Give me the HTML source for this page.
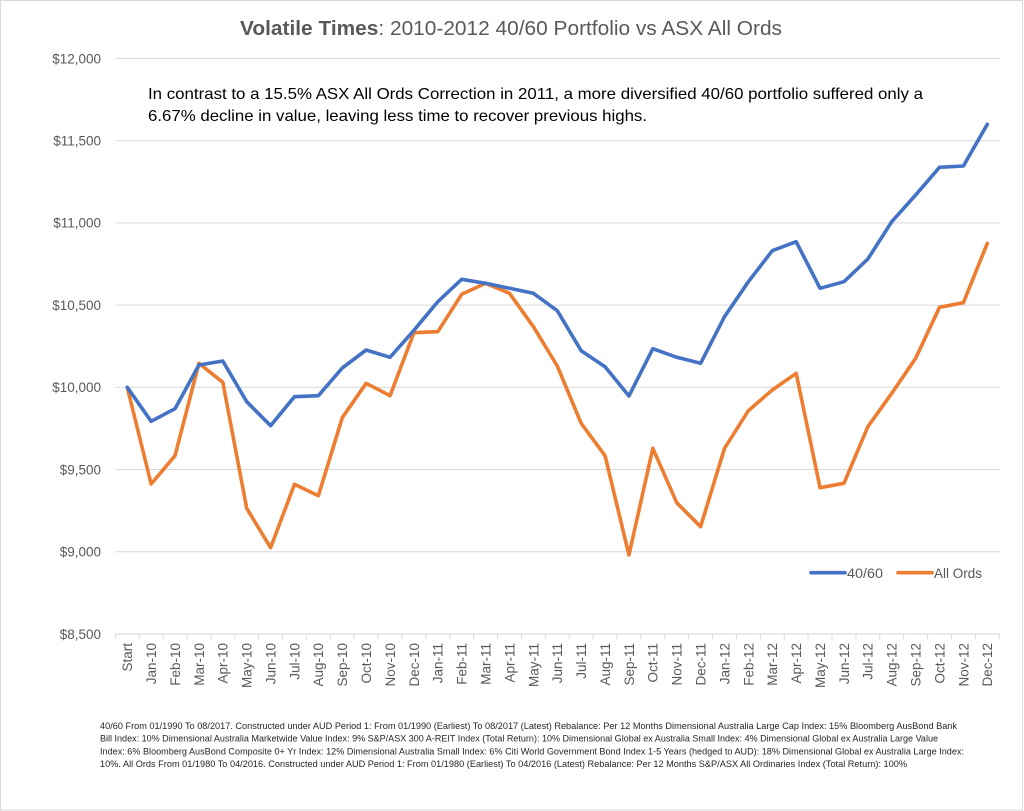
<!DOCTYPE html>
<html>
<head>
<meta charset="utf-8">
<style>
  html,body{margin:0;padding:0;background:#fff;}
  svg{display:block;}
  text{font-family:"Liberation Sans",Arial,sans-serif;}
</style>
</head>
<body>
<svg width="1024" height="811" viewBox="0 0 1024 811" xmlns="http://www.w3.org/2000/svg">
  <rect x="0" y="0" width="1024" height="811" fill="#fff"/>
  <rect x="0.5" y="0.5" width="1022" height="809.5" fill="none" stroke="#d9d9d9" stroke-width="1"/>

  <!-- Title -->
  <text x="240" y="35" font-size="20" fill="#595959" textLength="542" lengthAdjust="spacingAndGlyphs"><tspan font-weight="bold">Volatile Times</tspan>: 2010-2012 40/60 Portfolio vs ASX All Ords</text>

  <!-- Gridlines -->
  <g stroke="#d9d9d9" stroke-width="1">
    <line x1="115.3" y1="58.5" x2="1000" y2="58.5"/>
    <line x1="115.3" y1="140.7" x2="1000" y2="140.7"/>
    <line x1="115.3" y1="222.9" x2="1000" y2="222.9"/>
    <line x1="115.3" y1="305.1" x2="1000" y2="305.1"/>
    <line x1="115.3" y1="387.3" x2="1000" y2="387.3"/>
    <line x1="115.3" y1="469.5" x2="1000" y2="469.5"/>
    <line x1="115.3" y1="551.7" x2="1000" y2="551.7"/>
    <line x1="115.3" y1="634" x2="1000" y2="634"/>
  </g>

  <!-- Tick marks -->
  <g stroke="#d9d9d9" stroke-width="1">
    <line x1="115.3" y1="634" x2="115.3" y2="639.5"/>
    <line x1="139.2" y1="634" x2="139.2" y2="639.5"/>
    <line x1="163.1" y1="634" x2="163.1" y2="639.5"/>
    <line x1="187.0" y1="634" x2="187.0" y2="639.5"/>
    <line x1="210.9" y1="634" x2="210.9" y2="639.5"/>
    <line x1="234.8" y1="634" x2="234.8" y2="639.5"/>
    <line x1="258.6" y1="634" x2="258.6" y2="639.5"/>
    <line x1="282.5" y1="634" x2="282.5" y2="639.5"/>
    <line x1="306.4" y1="634" x2="306.4" y2="639.5"/>
    <line x1="330.3" y1="634" x2="330.3" y2="639.5"/>
    <line x1="354.2" y1="634" x2="354.2" y2="639.5"/>
    <line x1="378.1" y1="634" x2="378.1" y2="639.5"/>
    <line x1="402.0" y1="634" x2="402.0" y2="639.5"/>
    <line x1="425.9" y1="634" x2="425.9" y2="639.5"/>
    <line x1="449.8" y1="634" x2="449.8" y2="639.5"/>
    <line x1="473.7" y1="634" x2="473.7" y2="639.5"/>
    <line x1="497.5" y1="634" x2="497.5" y2="639.5"/>
    <line x1="521.4" y1="634" x2="521.4" y2="639.5"/>
    <line x1="545.3" y1="634" x2="545.3" y2="639.5"/>
    <line x1="569.2" y1="634" x2="569.2" y2="639.5"/>
    <line x1="593.1" y1="634" x2="593.1" y2="639.5"/>
    <line x1="617.0" y1="634" x2="617.0" y2="639.5"/>
    <line x1="640.9" y1="634" x2="640.9" y2="639.5"/>
    <line x1="664.8" y1="634" x2="664.8" y2="639.5"/>
    <line x1="688.7" y1="634" x2="688.7" y2="639.5"/>
    <line x1="712.6" y1="634" x2="712.6" y2="639.5"/>
    <line x1="736.4" y1="634" x2="736.4" y2="639.5"/>
    <line x1="760.3" y1="634" x2="760.3" y2="639.5"/>
    <line x1="784.2" y1="634" x2="784.2" y2="639.5"/>
    <line x1="808.1" y1="634" x2="808.1" y2="639.5"/>
    <line x1="832.0" y1="634" x2="832.0" y2="639.5"/>
    <line x1="855.9" y1="634" x2="855.9" y2="639.5"/>
    <line x1="879.8" y1="634" x2="879.8" y2="639.5"/>
    <line x1="903.7" y1="634" x2="903.7" y2="639.5"/>
    <line x1="927.6" y1="634" x2="927.6" y2="639.5"/>
    <line x1="951.5" y1="634" x2="951.5" y2="639.5"/>
    <line x1="975.3" y1="634" x2="975.3" y2="639.5"/>
    <line x1="999.2" y1="634" x2="999.2" y2="639.5"/>
  </g>

  <!-- Y labels -->
  <g font-size="13.5" fill="#595959" text-anchor="end">
    <text x="101" y="63.3">$12,000</text>
    <text x="101" y="145.5">$11,500</text>
    <text x="101" y="227.7">$11,000</text>
    <text x="101" y="309.9">$10,500</text>
    <text x="101" y="392.1">$10,000</text>
    <text x="101" y="474.3">$9,500</text>
    <text x="101" y="556.5">$9,000</text>
    <text x="101" y="638.8">$8,500</text>
  </g>

  <!-- X labels -->
  <g font-size="13.5" fill="#595959" text-anchor="end">
    <text transform="translate(127.25,643) rotate(-90)" dy="0.36em">Start</text>
    <text transform="translate(151.14,643) rotate(-90)" dy="0.36em">Jan-10</text>
    <text transform="translate(175.03,643) rotate(-90)" dy="0.36em">Feb-10</text>
    <text transform="translate(198.92,643) rotate(-90)" dy="0.36em">Mar-10</text>
    <text transform="translate(222.81,643) rotate(-90)" dy="0.36em">Apr-10</text>
    <text transform="translate(246.70,643) rotate(-90)" dy="0.36em">May-10</text>
    <text transform="translate(270.59,643) rotate(-90)" dy="0.36em">Jun-10</text>
    <text transform="translate(294.48,643) rotate(-90)" dy="0.36em">Jul-10</text>
    <text transform="translate(318.37,643) rotate(-90)" dy="0.36em">Aug-10</text>
    <text transform="translate(342.26,643) rotate(-90)" dy="0.36em">Sep-10</text>
    <text transform="translate(366.15,643) rotate(-90)" dy="0.36em">Oct-10</text>
    <text transform="translate(390.04,643) rotate(-90)" dy="0.36em">Nov-10</text>
    <text transform="translate(413.93,643) rotate(-90)" dy="0.36em">Dec-10</text>
    <text transform="translate(437.82,643) rotate(-90)" dy="0.36em">Jan-11</text>
    <text transform="translate(461.71,643) rotate(-90)" dy="0.36em">Feb-11</text>
    <text transform="translate(485.60,643) rotate(-90)" dy="0.36em">Mar-11</text>
    <text transform="translate(509.49,643) rotate(-90)" dy="0.36em">Apr-11</text>
    <text transform="translate(533.38,643) rotate(-90)" dy="0.36em">May-11</text>
    <text transform="translate(557.27,643) rotate(-90)" dy="0.36em">Jun-11</text>
    <text transform="translate(581.16,643) rotate(-90)" dy="0.36em">Jul-11</text>
    <text transform="translate(605.05,643) rotate(-90)" dy="0.36em">Aug-11</text>
    <text transform="translate(628.94,643) rotate(-90)" dy="0.36em">Sep-11</text>
    <text transform="translate(652.83,643) rotate(-90)" dy="0.36em">Oct-11</text>
    <text transform="translate(676.72,643) rotate(-90)" dy="0.36em">Nov-11</text>
    <text transform="translate(700.61,643) rotate(-90)" dy="0.36em">Dec-11</text>
    <text transform="translate(724.50,643) rotate(-90)" dy="0.36em">Jan-12</text>
    <text transform="translate(748.39,643) rotate(-90)" dy="0.36em">Feb-12</text>
    <text transform="translate(772.28,643) rotate(-90)" dy="0.36em">Mar-12</text>
    <text transform="translate(796.17,643) rotate(-90)" dy="0.36em">Apr-12</text>
    <text transform="translate(820.06,643) rotate(-90)" dy="0.36em">May-12</text>
    <text transform="translate(843.95,643) rotate(-90)" dy="0.36em">Jun-12</text>
    <text transform="translate(867.84,643) rotate(-90)" dy="0.36em">Jul-12</text>
    <text transform="translate(891.73,643) rotate(-90)" dy="0.36em">Aug-12</text>
    <text transform="translate(915.62,643) rotate(-90)" dy="0.36em">Sep-12</text>
    <text transform="translate(939.51,643) rotate(-90)" dy="0.36em">Oct-12</text>
    <text transform="translate(963.40,643) rotate(-90)" dy="0.36em">Nov-12</text>
    <text transform="translate(987.29,643) rotate(-90)" dy="0.36em">Dec-12</text>
  </g>

  <!-- Series: All Ords (orange) -->
  <polyline fill="none" stroke="#ED7D31" stroke-width="3.6" stroke-linejoin="round" stroke-linecap="round"
    points="127.25,387.3 151.14,484 175.03,455.7 198.92,363.3 222.81,382.3 246.70,508.3 270.59,547.7 294.48,484.3 318.37,495.7 342.26,417.7 366.15,383.3 390.04,395.7 413.93,332.7 437.82,331.7 461.71,294.3 485.60,283.3 509.49,293.3 533.38,326.7 557.27,366 581.16,423.3 605.05,455.7 628.94,555 652.83,448.3 676.72,502.7 700.61,526.7 724.50,448.3 748.39,410.7 772.28,390 796.17,373.3 820.06,487.7 843.95,483.3 867.84,426.7 891.73,393.3 915.62,358.3 939.51,307.3 963.40,302.7 987.29,243.3"/>

  <!-- Series: 40/60 (blue) -->
  <polyline fill="none" stroke="#4472C4" stroke-width="3.6" stroke-linejoin="round" stroke-linecap="round"
    points="127.25,387.3 151.14,421.3 175.03,408.7 198.92,365 222.81,361 246.70,401.7 270.59,425.7 294.48,396.7 318.37,395.7 342.26,368 366.15,350 390.04,357.3 413.93,330.3 437.82,301.7 461.71,279.3 485.60,283.3 509.49,288.3 533.38,293.3 557.27,310.7 581.16,350.7 605.05,366.7 628.94,396 652.83,348.7 676.72,357.3 700.61,363.3 724.50,316.7 748.39,281.7 772.28,250.7 796.17,241.7 820.06,288.3 843.95,281.7 867.84,259 891.73,221.7 915.62,195 939.51,167.3 963.40,166 987.29,124.3"/>

  <!-- Annotation -->
  <g font-size="16" fill="#000">
    <text x="148" y="99" textLength="775" lengthAdjust="spacingAndGlyphs">In contrast to a 15.5% ASX All Ords Correction in 2011, a more diversified 40/60 portfolio suffered only a</text>
    <text x="148" y="121" textLength="499" lengthAdjust="spacingAndGlyphs">6.67% decline in value, leaving less time to recover previous highs.</text>
  </g>

  <!-- Legend -->
  <line x1="811" y1="572.7" x2="845" y2="572.7" stroke="#4472C4" stroke-width="3.6" stroke-linecap="round"/>
  <text x="847" y="577.8" font-size="14" fill="#595959" textLength="36" lengthAdjust="spacingAndGlyphs">40/60</text>
  <line x1="898" y1="572.7" x2="932" y2="572.7" stroke="#ED7D31" stroke-width="3.6" stroke-linecap="round"/>
  <text x="934" y="577.8" font-size="14" fill="#595959" textLength="48" lengthAdjust="spacingAndGlyphs">All Ords</text>

  <!-- Footnote -->
  <g font-size="9" fill="#262626">
    <text x="100" y="729" textLength="857" lengthAdjust="spacingAndGlyphs">40/60 From 01/1990 To 08/2017.  Constructed under AUD Period 1:   From 01/1990 (Earliest) To 08/2017 (Latest) Rebalance: Per 12 Months Dimensional Australia Large Cap Index: 15% Bloomberg AusBond Bank</text>
    <text x="100" y="741.7" textLength="838" lengthAdjust="spacingAndGlyphs">Bill Index: 10% Dimensional Australia Marketwide Value Index: 9% S&amp;P/ASX 300 A-REIT Index (Total Return): 10% Dimensional Global ex Australia Small Index: 4% Dimensional Global ex Australia Large Value</text>
    <text x="100" y="754.4" textLength="864" lengthAdjust="spacingAndGlyphs">Index: 6% Bloomberg AusBond Composite 0+ Yr Index: 12% Dimensional Australia Small Index: 6% Citi World Government Bond Index 1-5 Years (hedged to AUD): 18% Dimensional Global ex Australia Large Index:</text>
    <text x="100" y="767" textLength="807" lengthAdjust="spacingAndGlyphs">10%. All Ords From 01/1980 To 04/2016.  Constructed under AUD Period 1:   From 01/1980 (Earliest) To 04/2016 (Latest) Rebalance: Per 12 Months S&amp;P/ASX All Ordinaries Index (Total Return): 100%</text>
  </g>
</svg>
</body>
</html>
